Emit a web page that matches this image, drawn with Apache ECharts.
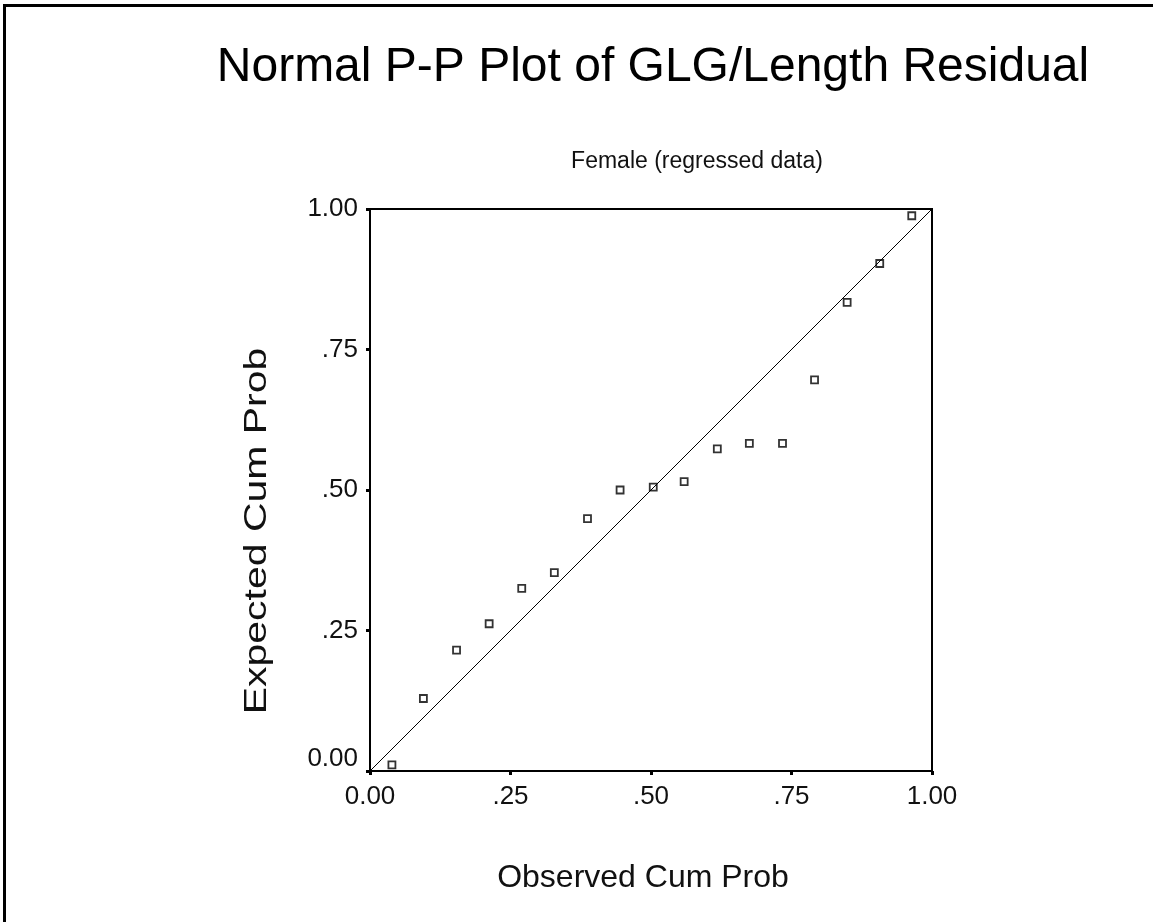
<!DOCTYPE html>
<html>
<head>
<meta charset="utf-8">
<title>Normal P-P Plot of GLG/Length Residual</title>
<script src="https://cdn.jsdelivr.net/npm/echarts@6/dist/echarts.min.js"></script>
<style>
  html, body { margin: 0; padding: 0; background: #fff; }
  #chart { width: 1153px; height: 922px; }
</style>
</head>
<body>
<div id="chart"></div>
<script>
// observed vs expected cumulative probabilities
const observedCum = [0.039, 0.095, 0.154, 0.212, 0.270, 0.328, 0.387, 0.445, 0.504, 0.559, 0.618, 0.675, 0.734, 0.791, 0.849, 0.907, 0.964]
const expectedCum = [0.011, 0.129, 0.215, 0.262, 0.325, 0.353, 0.449, 0.500, 0.505, 0.515, 0.573, 0.583, 0.583, 0.696, 0.834, 0.903, 0.988]
const diagonalX = [0, 1]
const diagonalY = [0, 1]
const tickLabels = { 0: '0.00', 0.25: '.25', 0.5: '.50', 0.75: '.75', 1: '1.00' }

const titleText = 'Normal P-P Plot of GLG/Length Residual'
const subtitleText = 'Female (regressed data)'
const xName = 'Observed Cum Prob'
const yName = 'Expected Cum Prob'

const FONT = 'Liberation Sans, Arial, sans-serif'

const chart = echarts.init(document.getElementById('chart'))

const axisCommon = {
  type: 'value', min: 0, max: 1, interval: 0.25,
  axisLine: { show: true, onZero: false, lineStyle: { color: '#000', width: 2 } },
  axisTick: { show: true, inside: false, length: 4, lineStyle: { color: '#000', width: 3 } },
  splitLine: { show: false },
}

chart.setOption({
  backgroundColor: '#fff',
  animation: false,
  graphic: [
    // frame: only top and left edges show in the original
    { type: 'polyline', shape: { points: [[4.5, 922], [4.5, 5.5], [1153, 5.5]] }, style: { stroke: '#000', lineWidth: 3, fill: null } },
    { type: 'text', x: 653, y: 68, style: { text: titleText, font: '48px ' + FONT, fill: '#000', align: 'center', verticalAlign: 'middle' } },
    { type: 'text', x: 697, y: 162, style: { text: subtitleText, font: '23px ' + FONT, fill: '#111', align: 'center', verticalAlign: 'middle' } },
    { type: 'text', x: 643, y: 878, style: { text: xName, font: '32px ' + FONT, fill: '#111', align: 'center', verticalAlign: 'middle' } },
    // y title is drawn stretched along its length, like the original
    { type: 'text', x: 257, y: 531, rotation: Math.PI / 2, scaleX: 1.28,
      style: { text: yName, font: '32px ' + FONT, fill: '#111', align: 'center', verticalAlign: 'middle' } },
  ],
  grid: { left: 370, top: 209, width: 562, height: 562, show: true, borderColor: '#000', borderWidth: 2, backgroundColor: 'transparent' },
  xAxis: Object.assign({}, axisCommon, {
    axisLabel: { color: '#111', fontSize: 26, fontFamily: FONT, margin: 13, formatter: v => tickLabels[v] },
  }),
  yAxis: Object.assign({}, axisCommon, {
    axisLabel: {
      color: '#111', fontSize: 26, fontFamily: FONT, margin: 12,
      formatter: v => v === 0 ? '{low|' + tickLabels[v] + '}' : tickLabels[v],
      rich: { low: { fontSize: 26, fontFamily: FONT, color: '#111', padding: [0, 0, 24, 0] } },
    },
  }),
  series: [
    {
      type: 'line', data: diagonalX.map((x, i) => [x, diagonalY[i]]),
      symbol: 'none', silent: true,
      lineStyle: { color: '#000', width: 1 },
    },
    {
      type: 'scatter', data: observedCum.map((x, i) => [x, expectedCum[i]]),
      symbol: 'rect', symbolSize: [7, 7],
      itemStyle: { color: '#fff', borderColor: '#000', borderWidth: 1.8 },
    },
  ],
})
</script>
</body>
</html>
